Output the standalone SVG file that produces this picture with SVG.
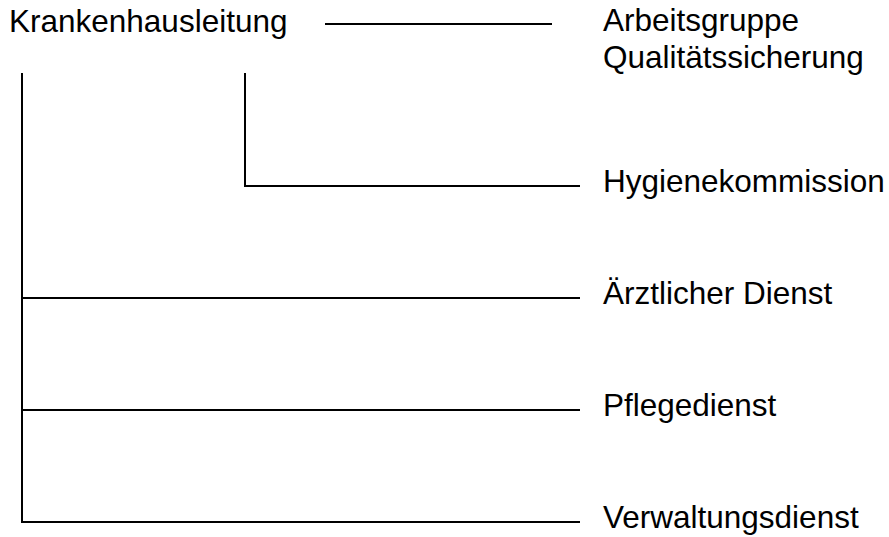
<svg xmlns="http://www.w3.org/2000/svg" width="889" height="537" viewBox="0 0 889 537">
<style>
.t{font-family:"Liberation Sans",Arial,sans-serif;font-size:31.5px;fill:#000}
.c{stroke:#000;stroke-width:2;fill:none}
</style>
<rect width="889" height="537" fill="#fff"/>
<g id="connectors">
<line class="c" x1="325" y1="24" x2="552" y2="24"/>
<path class="c" d="M22 73 V522 H580"/>
<line class="c" x1="22" y1="298" x2="580" y2="298"/>
<line class="c" x1="22" y1="410" x2="580" y2="410"/>
<path class="c" d="M245 73 V186 H580"/>
</g>
<g id="krankenhausleitung"><text class="t" x="9" y="32">Krankenhausleitung</text></g>
<g id="arbeitsgruppe"><text class="t" x="603" y="31">Arbeitsgruppe</text><text class="t" x="603" y="68">Qualitätssicherung</text></g>
<g id="hygienekommission"><text class="t" x="603" y="192">Hygienekommission</text></g>
<g id="aerztlicher-dienst"><text class="t" x="603" y="304">Ärztlicher Dienst</text></g>
<g id="pflegedienst"><text class="t" x="603" y="416">Pflegedienst</text></g>
<g id="verwaltungsdienst"><text class="t" x="603" y="528">Verwaltungsdienst</text></g>
</svg>
